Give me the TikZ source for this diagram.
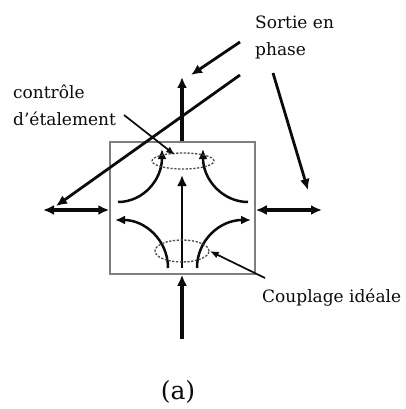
\documentclass[tikz,border=0pt]{standalone}
\usepackage{fontspec}
\setmainfont{DejaVu Serif}
\usepackage{tikz}
\usetikzlibrary{arrows.meta,calc,positioning,shapes.geometric}
\definecolor{ink}{HTML}{0B0B0B}
\definecolor{framegray}{HTML}{7F7F7F}
\definecolor{dotgray}{HTML}{4A4A4A}
\newcommand{\labelfont}{\fontsize{17}{27}\selectfont}
\newcommand{\capfont}{\fontsize{25}{30}\selectfont}
\tikzset{
  every node/.style={font=\labelfont,text=ink},
  beam/.style={-{Latex[length=11pt,width=10pt]},line width=3.2pt,draw=ink},
  twoway/.style={{Latex[length=11pt,width=10pt]}-{Latex[length=11pt,width=10pt]},line width=3.2pt,draw=ink},
  curvearrow/.style={-{Latex[length=10pt,width=9pt]},line width=2.5pt,draw=ink},
  pointer/.style={-{Latex[length=11pt,width=10pt]},line width=2.8pt,draw=ink},
  thinpointer/.style={-{Latex[length=9pt,width=7pt]},line width=1.7pt,draw=ink},
  ring/.style={draw=dotgray,line width=1.3pt,dash pattern=on 2.2pt off 1.6pt},
  note/.style={align=left,inner sep=0pt,anchor=north west},
}

\begin{document}
\begin{tikzpicture}[x=1pt,y=-1pt]
  \useasboundingbox (0,0) rectangle (406,409);
  % ---------- coupler box ----------
  \node[draw=framegray,line width=1.5pt,minimum width=145pt,minimum height=132pt,
        inner sep=0pt] (coupler) at (182.5,208) {};
  % ports
  \coordinate (topout)   at (182,77);
  \coordinate (botin)    at (182,339);
  \coordinate (leftend)  at (43,210);
  \coordinate (rightend) at (322,210);
  \draw[beam] (coupler.north -| topout) -- (topout);
  \draw[beam] (botin) -- (coupler.south -| botin);
  \draw[twoway] (leftend) -- (leftend -| coupler.west);
  \draw[twoway] (rightend -| coupler.east) -- (rightend);
  % ---------- inside ----------
  \coordinate (cbot) at (182,268);
  \coordinate (ctop) at (182,175);
  \draw[beam,line width=2.4pt] (cbot) -- (ctop);
  \draw[curvearrow] (118,202) .. controls (143,202) and (162,180) .. (162,149);
  \draw[curvearrow] (248,202) .. controls (223,202) and (203,180) .. (203,149);
  \draw[curvearrow] (168,268) .. controls (168,240) and (145,220) .. (115,220);
  \draw[curvearrow] (197,268) .. controls (197,240) and (220,220) .. (251,220);
  \node[ring,ellipse,minimum width=62pt,minimum height=16pt,inner sep=0pt] (spread) at (183,161) {};
  \node[ring,ellipse,minimum width=54pt,minimum height=22pt,inner sep=0pt] (ideal) at (182,251) {};
  % ---------- labels ----------
  \node[note] (sortie) at (255,16) {Sortie en\\phase};
  \node[note] (controle) at (13,85) {contrôle\\d'étalement};
  \node[note,anchor=base west] (couplage) at (262,302) {Couplage idéale};
  \node[font=\capfont] (caption) at (178,392) {(a)};
  % ---------- pointers ----------
  \coordinate (p1) at (240,42);
  \coordinate (p2) at (240,75);
  \coordinate (p3) at (273,73);
  \draw[pointer] (p1) -- (191,75);
  \draw[pointer] (p2) -- (56,206);
  \draw[pointer] (p3) -- (308,190);
  \draw[thinpointer] (124,115) -- (175,155);
  \draw[thinpointer] (265,278) -- (ideal.east);
\end{tikzpicture}
\end{document}
